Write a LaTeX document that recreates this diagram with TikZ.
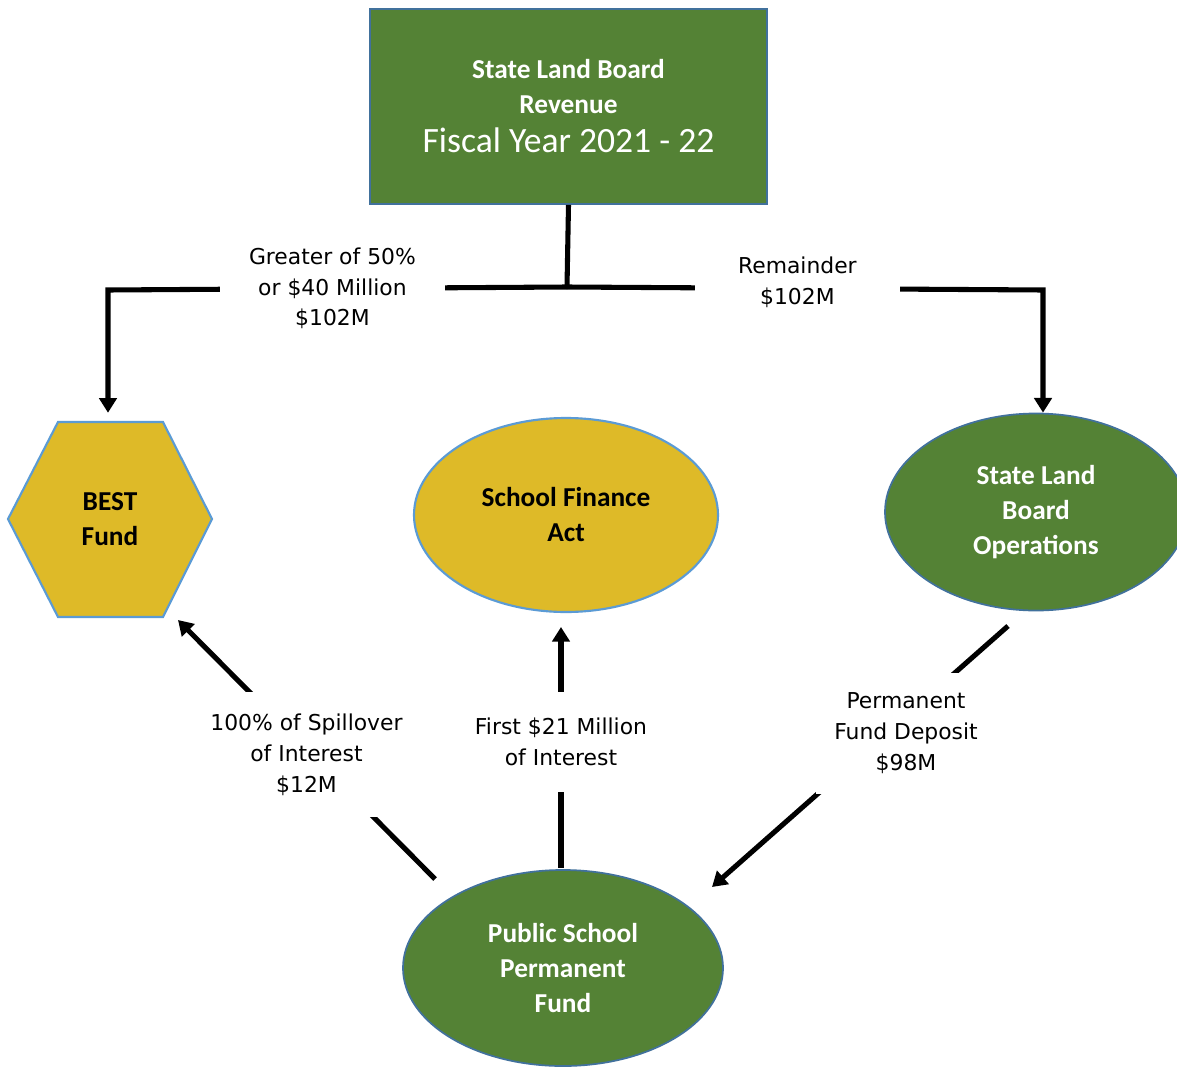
\documentclass[tikz,border=0pt]{standalone}
\usepackage{fontspec}
\setmainfont{Carlito}
\newfontfamily\lblfont{DejaVu Sans}
\usetikzlibrary{shapes.geometric,arrows.meta}
\definecolor{dgreen}{HTML}{548235}
\definecolor{gold}{HTML}{DEBA28}
\definecolor{lblue}{HTML}{5B9BD5}
\definecolor{dblue}{HTML}{41719C}
\begin{document}
\begin{tikzpicture}[x=0.75pt,y=-0.75pt,
  boxfont/.style={font=\fontsize{20.5}{26.25}\selectfont\bfseries},
  greenshape/.style={fill=dgreen, draw=dblue, line width=1.3pt, text=white, align=center, inner sep=0pt, boxfont},
  goldshape/.style={fill=gold, draw=lblue, line width=1.6pt, text=black, align=center, inner sep=0pt, boxfont},
  oval/.style={ellipse},
  conn/.style={line width=3.8pt, draw=black},
  arr/.style={conn, -{Triangle[width=13pt,length=11pt]}},
  lbl/.style={fill=white, align=center, inner sep=0pt, text=black, font=\lblfont\fontsize{16.4}{23}\selectfont}
]
\useasboundingbox (0,0) rectangle (1177,1070);
\fill[white] (0,0) rectangle (1177,1070);

% nodes
\node[greenshape, minimum width=297.75pt, minimum height=146.25pt] (top) at (568.5,106.5)
  {State Land Board\\Revenue\\[3pt]{\fontsize{26.7}{26.25}\selectfont\mdseries Fiscal Year 2021 - 22}};

\fill[gold, draw=lblue, line width=1.6pt] (8,519) -- (58,422) -- (163,422) -- (212,519) -- (163,617) -- (58,617) -- cycle;
\node[align=center, inner sep=0pt, boxfont, minimum width=153pt, minimum height=146.25pt] (best) at (110,519.5) {BEST\\Fund};

\node[goldshape, oval, minimum width=228pt, minimum height=145.5pt] (sfa) at (566,515) {School Finance\\Act};
\node[greenshape, oval, minimum width=226.5pt, minimum height=147.75pt] (slbo) at (1036,512) {State Land\\Board\\Operations};
\node[greenshape, oval, minimum width=240pt, minimum height=147pt] (psf) at (563,968) {Public School\\Permanent\\Fund};

% connectors from top box
\coordinate (j) at (567,287);
\coordinate (lc) at (108,290);
\coordinate (rc) at (1043,290);
\draw[conn] (top.south) -- (j);
\draw[arr, shorten >=6.75pt] (j) -- node[lbl, pos=0.511, minimum width=168.75pt, minimum height=20pt] (lab1) {Greater of 50\%\\or \$40 Million\\\$102M} (lc) -- (lc |- best.north);
\draw[arr] (j) -- node[lbl, pos=0.484, minimum width=153.75pt, minimum height=20pt, yshift=4.5pt] (lab2) {Remainder\\\$102M} (rc) -- (rc |- slbo.north);

% interest flows
\coordinate (f1) at (561,868);
\coordinate (f2) at (561,627);
\draw[arr] (f1) -- node[lbl, minimum width=150pt, minimum height=75pt, yshift=4pt] (lab3) {First \$21 Million\\of Interest} (f2);

\coordinate (s1) at (435,879);
\coordinate (s2) at (178,620);
\draw[arr] (s1) -- node[lbl, minimum width=150pt, minimum height=93.75pt, yshift=-4pt] (lab4) {100\% of Spillover\\of Interest\\\$12M} (s2);

\coordinate (d1) at (1008,626);
\coordinate (d2) at (712,887);
\draw[arr] (d1) -- (d2);
\node[lbl, minimum width=135pt, minimum height=90.75pt] (lab5) at (906,733) {Permanent\\Fund Deposit\\\$98M};
\end{tikzpicture}
\end{document}
